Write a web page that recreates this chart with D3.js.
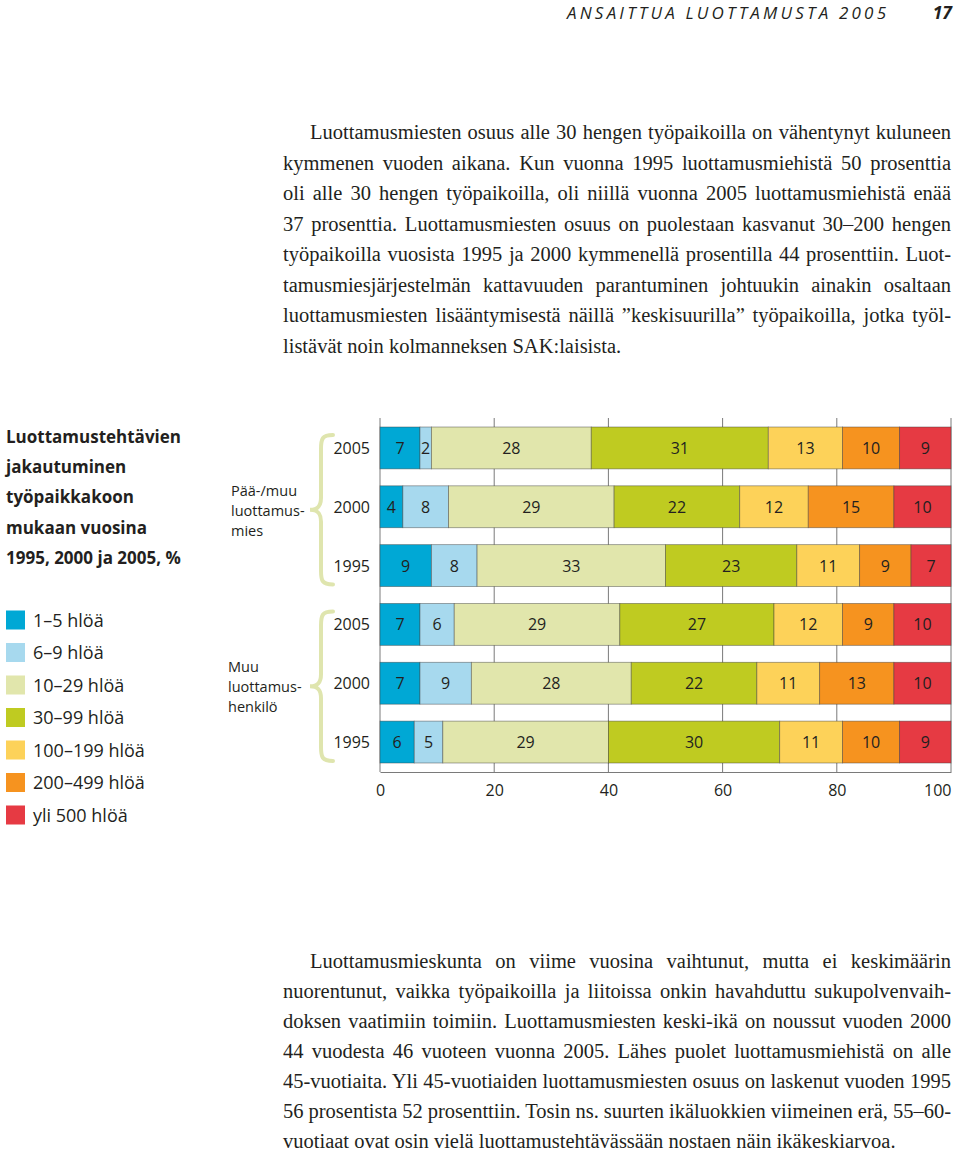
<!DOCTYPE html>
<html>
<head>
<meta charset="utf-8">
<script src="https://cdn.jsdelivr.net/npm/d3@7"></script>
<style>
  html, body { margin: 0; padding: 0; background: #fff; }
  svg { display: block; }
</style>
</head>
<body>
<script>
// ---------- data ----------
const categories = ["1–5 hlöä", "6–9 hlöä", "10–29 hlöä", "30–99 hlöä", "100–199 hlöä", "200–499 hlöä", "yli 500 hlöä"];
const colors = ["#00a8d5", "#a7d9ee", "#e1e6ac", "#bfcb21", "#fdd259", "#f6931f", "#e63a43"];
const years = ["2005", "2000", "1995"];
const groupLabels = [["Pää-/muu", "luottamus-", "mies"], ["Muu", "luottamus-", "henkilö"]];
const paaMuu2005 = [7, 2, 28, 31, 13, 10, 9];
const paaMuu2000 = [4, 8, 29, 22, 12, 15, 10];
const paaMuu1995 = [9, 8, 33, 23, 11, 9, 7];
const muu2005 = [7, 6, 29, 27, 12, 9, 10];
const muu2000 = [7, 9, 28, 22, 11, 13, 10];
const muu1995 = [6, 5, 29, 30, 11, 10, 9];
const xTicks = [0, 20, 40, 60, 80, 100];
const titleLines = ["Luottamustehtävien", "jakautuminen", "työpaikkakoon", "mukaan vuosina", "1995, 2000 ja 2005, %"];
const headerText = "ANSAITTUA LUOTTAMUSTA 2005";
const pageNumber = "17";
const para1 = [
  "Luottamusmiesten osuus alle 30 hengen työpaikoilla on vähentynyt kuluneen",
  "kymmenen vuoden aikana. Kun vuonna 1995 luottamusmiehistä 50 prosenttia",
  "oli alle 30 hengen työpaikoilla, oli niillä vuonna 2005 luottamusmiehistä enää",
  "37 prosenttia. Luottamusmiesten osuus on puolestaan kasvanut 30–200 hengen",
  "työpaikoilla vuosista 1995 ja 2000 kymmenellä prosentilla 44 prosenttiin. Luot-",
  "tamusmiesjärjestelmän kattavuuden parantuminen johtuukin ainakin osaltaan",
  "luottamusmiesten lisääntymisestä näillä ”keskisuurilla” työpaikoilla, jotka työl-",
  "listävät noin kolmanneksen SAK:laisista."
];
const para2 = [
  "Luottamusmieskunta on viime vuosina vaihtunut, mutta ei keskimäärin",
  "nuorentunut, vaikka työpaikoilla ja liitoissa onkin havahduttu sukupolvenvaih-",
  "doksen vaatimiin toimiin. Luottamusmiesten keski-ikä on noussut vuoden 2000",
  "44 vuodesta 46 vuoteen vuonna 2005. Lähes puolet luottamusmiehistä on alle",
  "45-vuotiaita. Yli 45-vuotiaiden luottamusmiesten osuus on laskenut vuoden 1995",
  "56 prosentista 52 prosenttiin. Tosin ns. suurten ikäluokkien viimeinen erä, 55–60-",
  "vuotiaat ovat osin vielä luottamustehtävässään nostaen näin ikäkeskiarvoa."
];

const rows = [
  {id: "g0-2005", group: 0, year: "2005", values: paaMuu2005},
  {id: "g0-2000", group: 0, year: "2000", values: paaMuu2000},
  {id: "g0-1995", group: 0, year: "1995", values: paaMuu1995},
  {id: "g1-2005", group: 1, year: "2005", values: muu2005},
  {id: "g1-2000", group: 1, year: "2000", values: muu2000},
  {id: "g1-1995", group: 1, year: "1995", values: muu1995}
];

// ---------- setup ----------
const W = 960, H = 1152;
const svg = d3.select("body").append("svg").attr("width", W).attr("height", H);
const sans = "'Open Sans', 'Noto Sans', sans-serif";
const serif = "'Liberation Serif', 'DejaVu Serif', serif";
const ink = "#231f20";

// header
svg.append("text").attr("x", 567).attr("y", 18.5)
  .attr("font-family", sans).attr("font-style", "italic").attr("font-size", 17)
  .attr("fill", ink).attr("textLength", 319).attr("lengthAdjust", "spacing")
  .text(headerText);
svg.append("text").attr("x", 952).attr("y", 18.5).attr("text-anchor", "end")
  .attr("font-family", sans).attr("font-style", "italic").attr("font-weight", 700).attr("font-size", 17.5)
  .attr("fill", ink).text(pageNumber);

// justified paragraph lines
function paragraph(lines, y0, step) {
  const left = 283, right = 951, indent = 27;
  lines.forEach((line, i) => {
    const x = i === 0 ? left + indent : left;
    const t = svg.append("text").attr("x", x).attr("y", y0 + i * step)
      .attr("font-family", serif).attr("font-size", 20.5).attr("fill", ink)
      .attr("xml:space", "preserve").text(line);
    if (i < lines.length - 1) {
      const natural = t.node().getComputedTextLength();
      const spaces = (line.match(/ /g) || []).length;
      if (spaces > 0) t.attr("word-spacing", ((right - x) - natural) / spaces);
    }
  });
}
paragraph(para1, 139, 30.5);
paragraph(para2, 968, 30);

// ---------- chart ----------
const x = d3.scaleLinear().domain([0, 100]).range([380, 951]);
const y = d3.scaleBand().domain(rows.map(r => r.id)).range([418, 772])
  .paddingInner(0.288).paddingOuter(0.153);
const axisY = 772;

// gridlines
svg.append("g").selectAll("line").data(xTicks).join("line")
  .attr("x1", d => x(d)).attr("x2", d => x(d))
  .attr("y1", 418).attr("y2", axisY)
  .attr("stroke", "#7a7a7a").attr("stroke-width", 1);

// bars
const rowG = svg.append("g").selectAll("g").data(rows).join("g")
  .attr("transform", d => `translate(0,${y(d.id)})`);

rowG.each(function(r) {
  let acc = 0;
  const segs = r.values.map((v, i) => { const s = {v, i, x0: acc}; acc += v; return s; });
  const g = d3.select(this);
  g.selectAll("rect").data(segs).join("rect")
    .attr("x", d => x(d.x0)).attr("width", d => x(d.x0 + d.v) - x(d.x0))
    .attr("y", 0).attr("height", y.bandwidth())
    .attr("fill", d => colors[d.i])
    .attr("stroke", "rgba(60,60,60,0.55)").attr("stroke-width", 0.8);
  g.selectAll("text.v").data(segs).join("text").attr("class", "v")
    .attr("x", d => (x(d.x0) + x(d.x0 + d.v)) / 2)
    .attr("y", y.bandwidth() / 2 + 6)
    .attr("text-anchor", "middle").attr("font-family", sans).attr("font-size", 16)
    .attr("fill", ink).text(d => d.v);
  g.append("text").attr("x", 370).attr("y", y.bandwidth() / 2 + 6)
    .attr("text-anchor", "end").attr("font-family", sans).attr("font-size", 16)
    .attr("fill", ink).text(r.year);
});

// x axis
const axis = svg.append("g").attr("transform", `translate(0,${axisY})`)
  .call(d3.axisBottom(x).tickValues(xTicks).tickSize(0).tickPadding(13).tickSizeOuter(0));
axis.select(".domain").attr("stroke", "#7a7a7a");
axis.selectAll("text").attr("font-family", sans).attr("font-size", 16).attr("fill", ink)
  .attr("text-anchor", d => d === 100 ? "end" : "middle");

// braces & group labels
[0, 1].forEach(gi => {
  const gRows = rows.filter(r => r.group === gi);
  const top = y(gRows[0].id) + 8;
  const bot = y(gRows[gRows.length - 1].id) + y.bandwidth() - 2;
  const mid = (top + bot) / 2;
  const xr = 333, xs = 321, xt = 310;
  const p = `M${xr},${top} C${xs+1},${top} ${xs},${top+4} ${xs},${top+14} L${xs},${mid-12} C${xs},${mid-4} ${xs-3},${mid} ${xt},${mid} C${xs-3},${mid} ${xs},${mid+4} ${xs},${mid+12} L${xs},${bot-14} C${xs},${bot-4} ${xs+1},${bot} ${xr},${bot}`;
  svg.append("path").attr("d", p).attr("fill", "none")
    .attr("stroke", "#dfe5ae").attr("stroke-width", 4).attr("stroke-linecap", "round");
  const lx = gi === 0 ? 231 : 228;
  svg.append("g").selectAll("text").data(groupLabels[gi]).join("text")
    .attr("x", lx).attr("y", (d, i) => mid - 19 + i * 20 + 5)
    .attr("font-family", sans).attr("font-size", 14.5).attr("fill", ink).text(d => d);
});

// title
svg.append("g").selectAll("text").data(titleLines).join("text")
  .attr("x", 6).attr("y", (d, i) => 443 + i * 30.2)
  .attr("font-family", sans).attr("font-weight", 700).attr("font-size", 17)
  .attr("fill", ink).text(d => d);

// legend
const leg = svg.append("g").selectAll("g").data(categories).join("g")
  .attr("transform", (d, i) => `translate(6,${620 + i * 32.5})`);
leg.append("rect").attr("x", 0).attr("y", -9.5).attr("width", 19).attr("height", 19)
  .attr("fill", (d, i) => colors[i]);
leg.append("text").attr("x", 27).attr("y", 6.5)
  .attr("font-family", sans).attr("font-size", 18).attr("fill", ink).text(d => d);
</script>
</body>
</html>
